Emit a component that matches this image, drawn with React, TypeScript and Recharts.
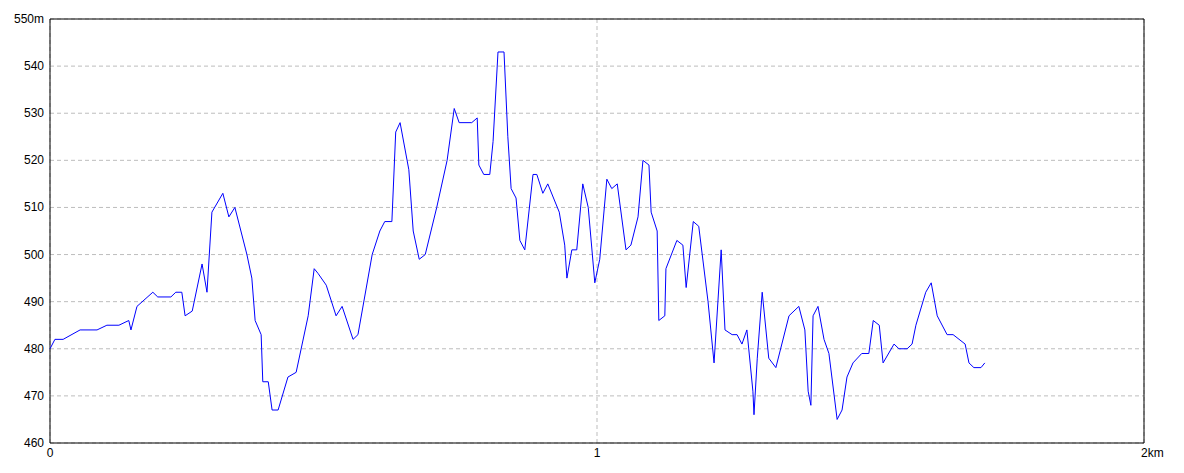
import { LineChart, Line, XAxis, YAxis, CartesianGrid, ReferenceArea } from 'recharts';

// distance along the track (km)
const distances = [
  0, 0.009, 0.024, 0.055, 0.086, 0.104, 0.126, 0.144, 0.148, 0.159,
  0.188, 0.197, 0.221, 0.230, 0.241, 0.247, 0.260, 0.278, 0.287, 0.296,
  0.316, 0.327, 0.338, 0.360, 0.369, 0.375, 0.386, 0.389, 0.399, 0.406,
  0.417, 0.435, 0.450, 0.472, 0.483, 0.490, 0.505, 0.523, 0.534, 0.554,
  0.563, 0.589, 0.603, 0.612, 0.625, 0.632, 0.640, 0.656, 0.664, 0.675,
  0.686, 0.707, 0.726, 0.739, 0.748, 0.771, 0.781, 0.784, 0.793, 0.804,
  0.810, 0.819, 0.830, 0.837, 0.843, 0.852, 0.859, 0.868, 0.883, 0.890,
  0.901, 0.910, 0.931, 0.941, 0.945, 0.954, 0.963, 0.974, 0.984, 0.996,
  1.005, 1.018, 1.027, 1.037, 1.053, 1.062, 1.075, 1.084, 1.095, 1.099,
  1.110, 1.113, 1.124, 1.126, 1.146, 1.157, 1.163, 1.176, 1.186, 1.203,
  1.214, 1.227, 1.234, 1.247, 1.256, 1.265, 1.274, 1.285, 1.287, 1.293,
  1.302, 1.314, 1.327, 1.351, 1.369, 1.380, 1.386, 1.391, 1.395, 1.404,
  1.415, 1.424, 1.439, 1.448, 1.457, 1.468, 1.484, 1.497, 1.505, 1.516,
  1.523, 1.543, 1.552, 1.567, 1.576, 1.583, 1.601, 1.611, 1.622, 1.640,
  1.651, 1.673, 1.680, 1.689, 1.702, 1.709,
];

// elevation (m)
const elevations = [
  480, 482, 482, 484, 484, 485, 485, 486, 484, 489,
  492, 491, 491, 492, 492, 487, 488, 498, 492, 509,
  513, 508, 510, 500, 495, 486, 483, 473, 473, 467,
  467, 474, 475, 487, 497, 496, 493.5, 487, 489, 482,
  483, 500, 505, 507, 507, 526, 528, 518, 505, 499,
  500, 510, 520, 531, 528, 528, 529, 519, 517, 517,
  524, 543, 543, 525, 514, 512, 503, 501, 517, 517,
  513, 515, 509, 502, 495, 501, 501, 515, 510, 494,
  499, 516, 514, 515, 501, 502, 508, 520, 519, 509,
  505, 486, 487, 497, 503, 502, 493, 507, 506, 490,
  477, 501, 484, 483, 483, 481, 484, 471, 466, 478,
  492, 478, 476, 487, 489, 484, 471, 468, 487, 489,
  482, 479, 465, 467, 474, 477, 479, 479, 486, 485,
  477, 481, 480, 480, 481, 485, 492, 494, 487, 483,
  483, 481, 477, 476, 476, 477,
];

const xTicks = [0, 1, 2];
const yTicks = [460, 470, 480, 490, 500, 510, 520, 530, 540, 550];

const data = distances.map((d, i) => ({ d, elev: elevations[i] }));

const FONT = '"Liberation Sans Narrow", "Arial Narrow", "Liberation Sans", sans-serif';

const XTick = ({ x, y, payload }: any) => {
  const last = payload.value === 2;
  return (
    <text
      x={last ? x - 3 : x}
      y={y}
      dy={14}
      textAnchor={last ? 'start' : 'middle'}
      fill="#000"
      fontSize={12}
      fontFamily={FONT}
    >
      {last ? '2km' : payload.value}
    </text>
  );
};

const YTick = ({ x, y, payload }: any) => (
  <text x={x - 6} y={y} dy={4} textAnchor="end" fill="#000" fontSize={12} fontFamily={FONT}>
    {payload.value === 550 ? '550m' : payload.value}
  </text>
);

export default function App() {
  return (
    <div style={{ position: 'absolute', left: 0, top: 0, background: '#fff' }}>
      <LineChart width={1184} height={473} data={data} margin={{ top: 19, right: 40, left: 0, bottom: 0 }}>
        <CartesianGrid stroke="#bdbdbd" strokeDasharray="4 3" />
        <XAxis
          type="number"
          dataKey="d"
          domain={[0, 2]}
          ticks={xTicks}
          height={30}
          tickSize={0}
          tickMargin={0}
          axisLine={false}
          tickLine={false}
          tick={<XTick />}
          interval={0}
        />
        <YAxis
          type="number"
          domain={[460, 550]}
          ticks={yTicks}
          width={50}
          tickSize={0}
          tickMargin={0}
          axisLine={false}
          tickLine={false}
          tick={<YTick />}
          interval={0}
        />
        <ReferenceArea x1={0} x2={2} y1={460} y2={550} fill="none" stroke="#000" strokeWidth={1} />
        <Line
          type="linear"
          dataKey="elev"
          stroke="#0000ff"
          strokeWidth={1}
          dot={false}
          isAnimationActive={false}
        />
      </LineChart>
    </div>
  );
}
